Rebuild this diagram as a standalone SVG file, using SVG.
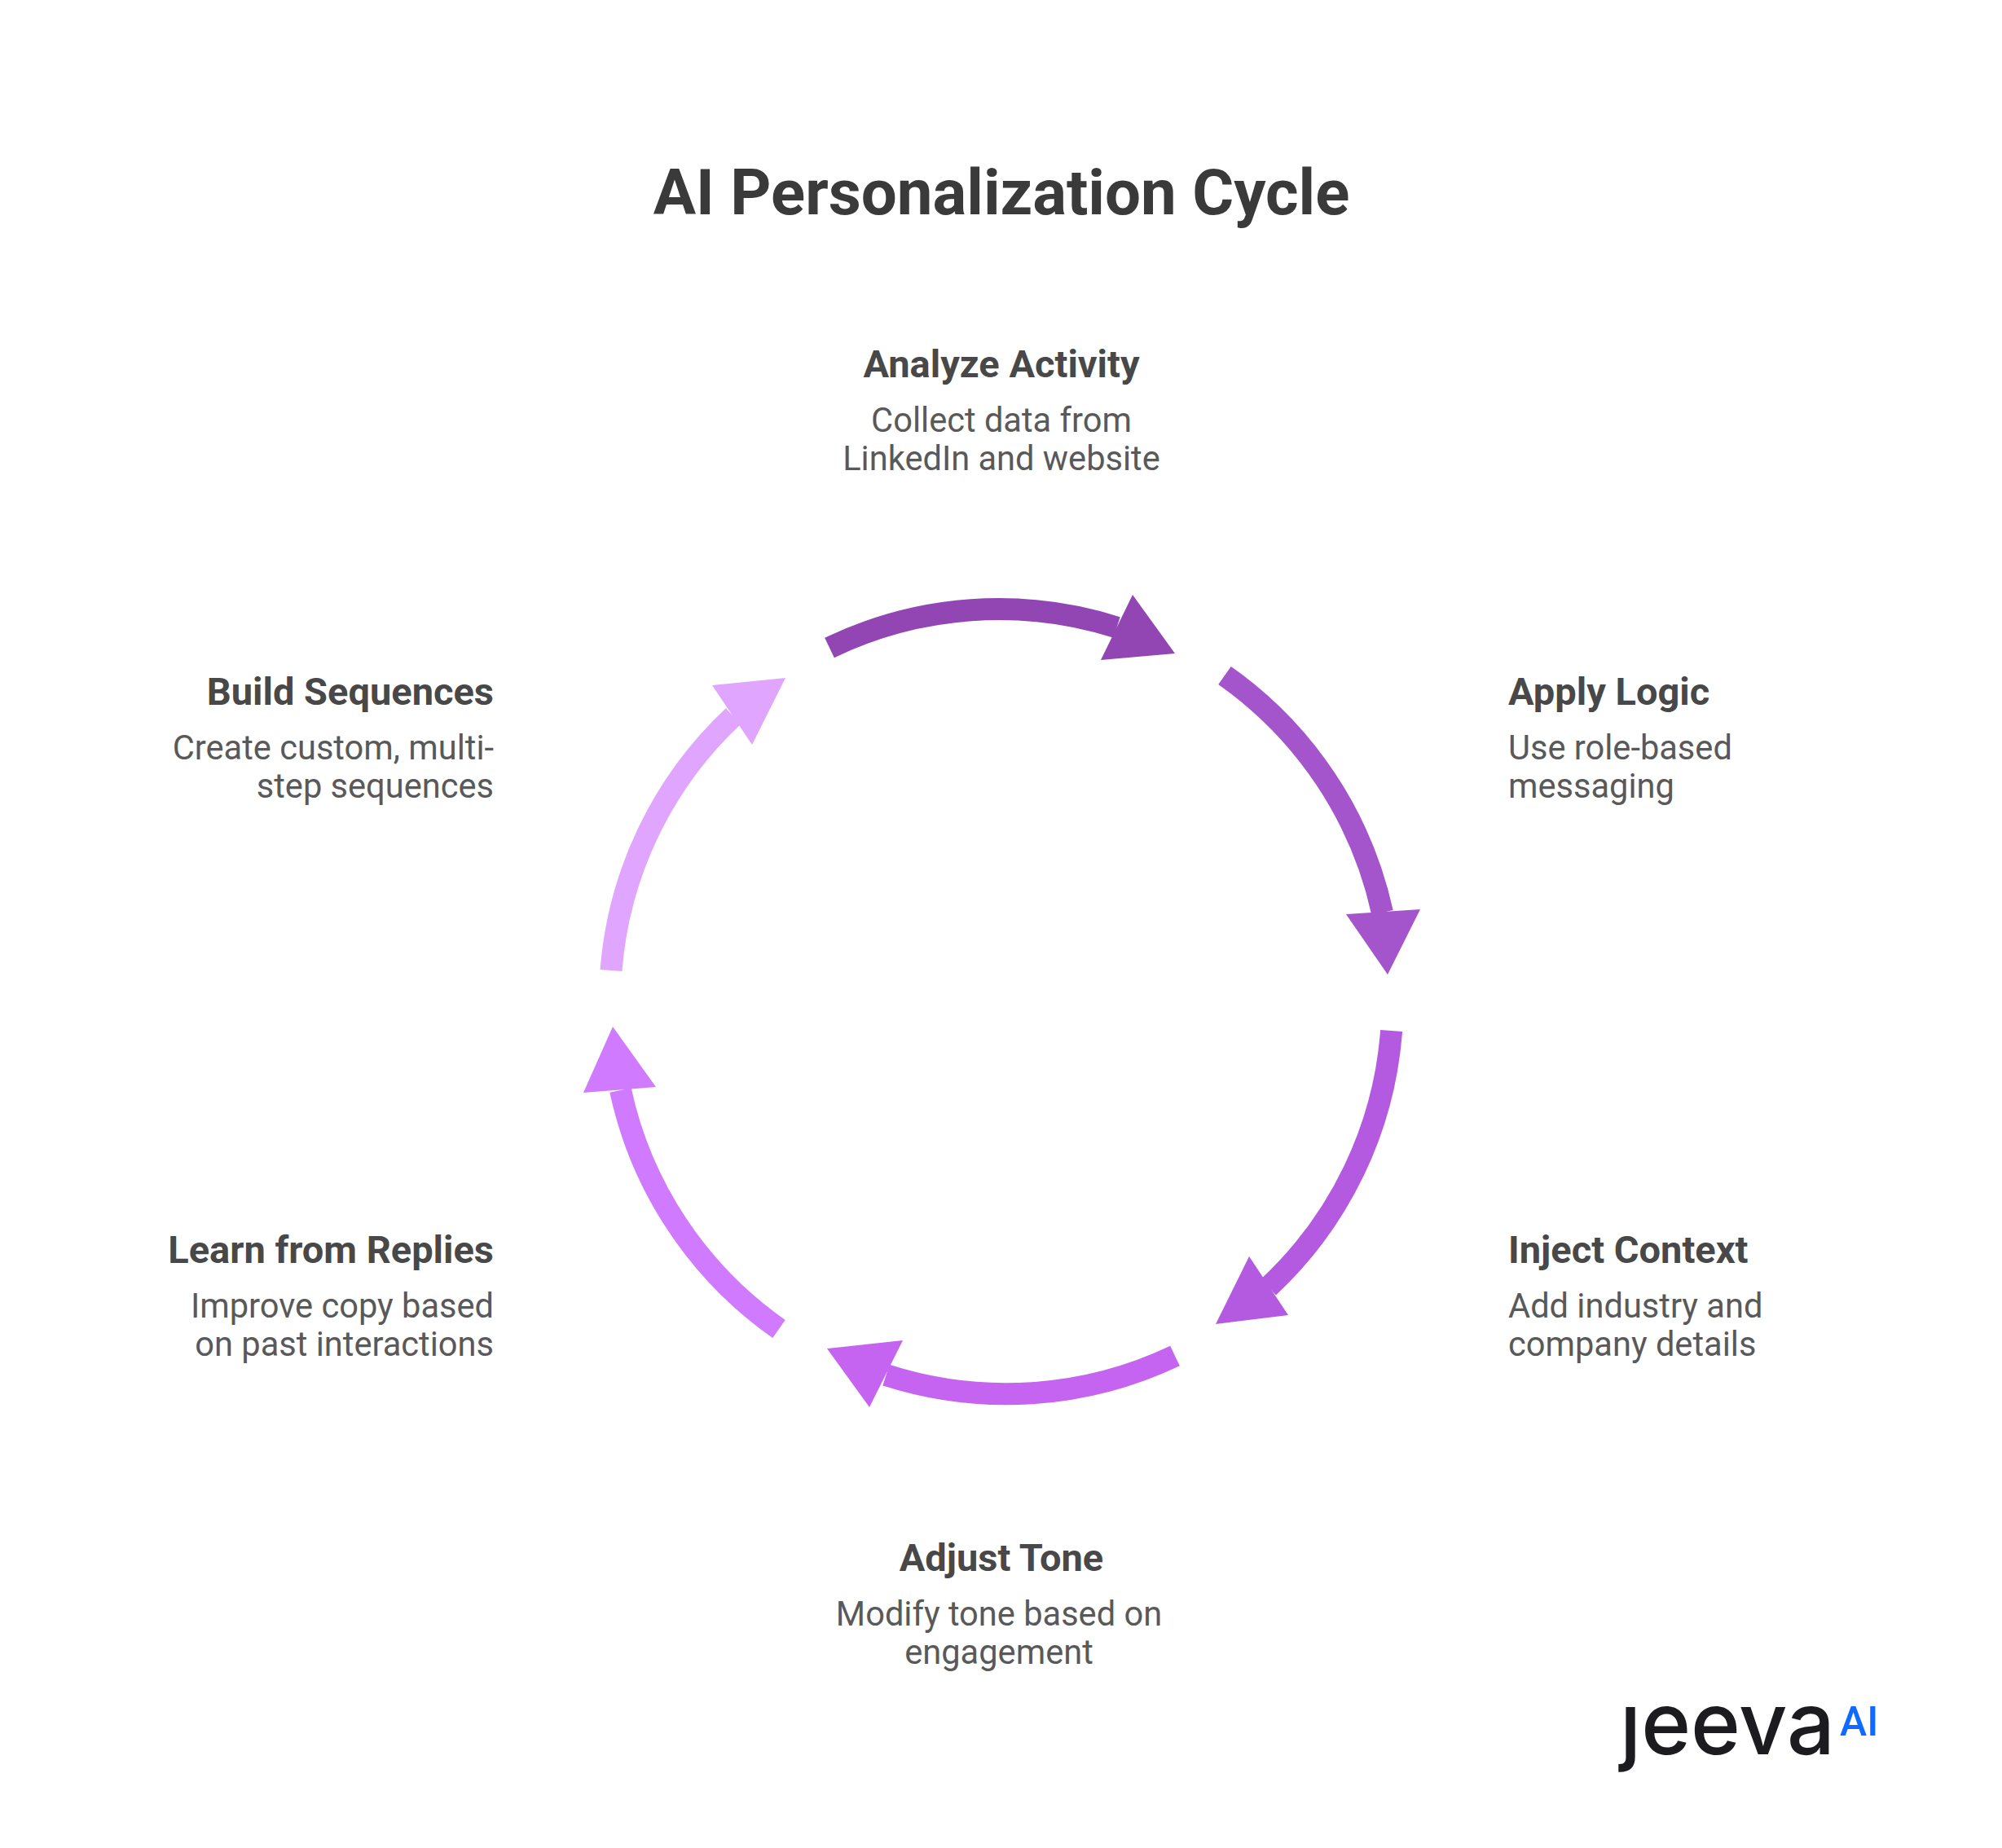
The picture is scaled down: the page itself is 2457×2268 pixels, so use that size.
<svg xmlns="http://www.w3.org/2000/svg" width="2457" height="2268" viewBox="0 0 2457 2268">
<style>
text{font-family:Roboto,"Liberation Sans",sans-serif}
.title{font-size:78px;font-weight:700;fill:#3a3a3a;text-anchor:middle}
.h{font-size:47px;font-weight:700;fill:#484848}
.d{font-size:41.6px;font-weight:400;fill:#595959}
.m{text-anchor:middle}.e{text-anchor:end}
.arc{fill:none;stroke-width:27}
</style>
<defs><clipPath id="logo-clip"><rect x="1960" y="2093" width="300" height="100"/></clipPath></defs>
<rect width="2457" height="2268" fill="#fff"/>
<text class="title" x="1229" y="263">AI Personalization Cycle</text>
<g id="connectors">
<g id="c1"><path class="arc" stroke="#9146B4" d="M1018 795A479 479 0 0 1 1370.6 770"/><polygon fill="#9146B4" points="1442,802 1390,730 1351,810"/></g>
<g id="c2"><path class="arc" stroke="#A555CC" d="M1503 829A482 482 0 0 1 1696.5 1120"/><polygon fill="#A555CC" points="1703,1196 1743,1116 1652,1122"/></g>
<g id="c3"><path class="arc" stroke="#B45AE0" d="M1707.6 1265A479 479 0 0 1 1556.7 1579.6"/><polygon fill="#B45AE0" points="1492,1625 1533,1542 1581,1614"/></g>
<g id="c4"><path class="arc" stroke="#C564F0" d="M1442 1664A482 482 0 0 1 1087.5 1687.7"/><polygon fill="#C564F0" points="1015,1655 1108,1645 1067,1727"/></g>
<g id="c5"><path class="arc" stroke="#CF7AFF" d="M956 1631A482 482 0 0 1 761.5 1338"/><polygon fill="#CF7AFF" points="752,1260 716,1341 805,1334"/></g>
<g id="c6"><path class="arc" stroke="#E0A6FF" d="M750 1191A479 479 0 0 1 900 879"/><polygon fill="#E0A6FF" points="964,832 874,841 923,914"/></g>
</g>
<g id="node-analyze"><text class="h m" x="1229" y="463">Analyze Activity</text><text class="d m" x="1229" y="530">Collect data from</text><text class="d m" x="1229" y="577">LinkedIn and website</text></g>
<g id="node-apply"><text class="h" x="1851" y="865">Apply Logic</text><text class="d" x="1851" y="932">Use role-based</text><text class="d" x="1851" y="979">messaging</text></g>
<g id="node-inject"><text class="h" x="1851" y="1550">Inject Context</text><text class="d" x="1851" y="1617">Add industry and</text><text class="d" x="1851" y="1664">company details</text></g>
<g id="node-adjust"><text class="h m" x="1229" y="1928">Adjust Tone</text><text class="d m" x="1226" y="1995">Modify tone based on</text><text class="d m" x="1226" y="2042">engagement</text></g>
<g id="node-learn"><text class="h e" x="606" y="1550">Learn from Replies</text><text class="d e" x="606" y="1617">Improve copy based</text><text class="d e" x="606" y="1664">on past interactions</text></g>
<g id="node-build"><text class="h e" x="606" y="865">Build Sequences</text><text class="d e" x="606" y="932">Create custom, multi-</text><text class="d e" x="606" y="979">step sequences</text></g>
<g id="logo"><text x="1988" y="2153" font-size="106" style="font-family:Inter,sans-serif" font-weight="500" fill="#1c1b1f" textLength="264" lengthAdjust="spacingAndGlyphs" clip-path="url(#logo-clip)">jeeva</text><text x="2258" y="2130" font-size="50" font-weight="500" fill="#0f6bff">AI</text></g>
</svg>
